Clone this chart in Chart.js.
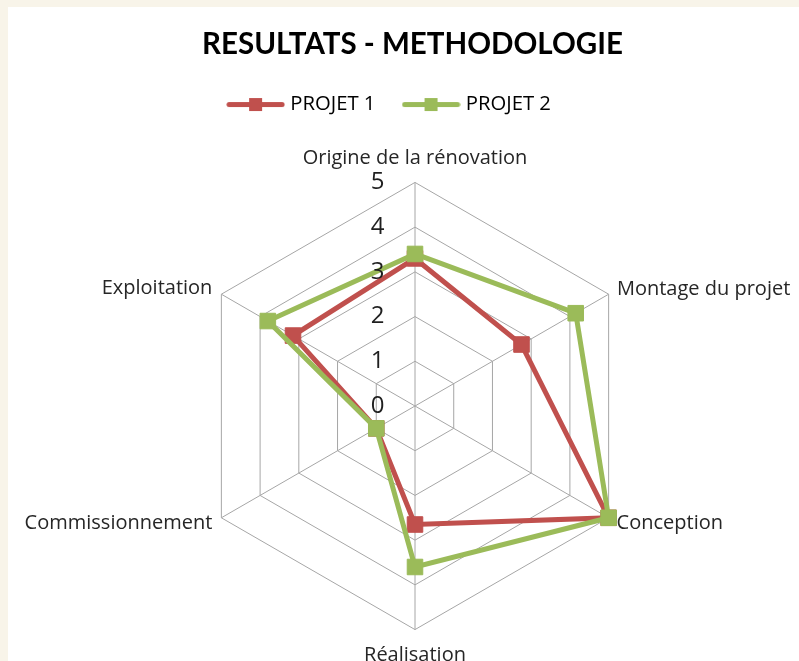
<!DOCTYPE html>
<html>
<head>
<meta charset="utf-8">
<script src="https://cdn.jsdelivr.net/npm/chart.js@4.4.1/dist/chart.umd.min.js"></script>
<style>
  html, body { margin: 0; padding: 0; background: #f8f4e9; overflow: hidden; width: 799px; height: 661px; position: relative; }
  #frame { position: absolute; left: 8px; top: 7px; width: 791px; height: 680px; background: #ffffff; }
  #chart { position: absolute; left: 0px; top: 7px; display: block; }
</style>
</head>
<body>
<div id="frame"></div>
<canvas id="chart" width="830" height="696"></canvas>
<script>
const categories = ["Origine de la rénovation", "Montage du projet", "Conception", "Réalisation", "Commissionnement", "Exploitation"];
const projet1 = [3.3, 2.75, 5, 2.65, 1, 3.15];
const projet2 = [3.4, 4.15, 5, 3.6, 1, 3.8];
const tickValues = [0, 1, 2, 3, 4, 5];
const seriesNames = ["PROJET 1", "PROJET 2"];
const RED = "#C0504D";
const GREEN = "#9BBB59";

const labelPadding = [11.5, -2.4, -2.8, 1, -1.6, -1.6];
const labelLineHeight = ['1px', '1px', '1px', '26px', '1px', '1px'];

function legendMarker(color) {
  const c = document.createElement('canvas');
  c.width = 59; c.height = 15;
  const g = c.getContext('2d');
  g.strokeStyle = color;
  g.lineWidth = 5;
  g.lineCap = 'round';
  g.beginPath(); g.moveTo(3, 7.5); g.lineTo(56, 7.5); g.stroke();
  g.fillStyle = color;
  g.fillRect(23, 1, 13, 13);
  return c;
}

const nudge = {
  id: 'nudge',
  afterLayout(chart) {
    const t = chart.titleBlock;
    if (t) { const d = 412.5 - (t.left + t.right) / 2; t.left += d; t.right += d; }
    const l = chart.legend;
    if (l) { const d = 391 - (l.left + l.right) / 2; l.left += d; l.right += d; }
  }
};

const ctx = document.getElementById('chart').getContext('2d');
new Chart(ctx, {
  type: 'radar',
  data: {
    labels: categories,
    datasets: [
      { label: seriesNames[0], data: projet1, order: 1, borderColor: RED, backgroundColor: RED, borderWidth: 5,
        pointStyle: 'rect', pointRadius: 11, pointBorderWidth: 1, pointBackgroundColor: RED, pointBorderColor: RED, fill: false },
      { label: seriesNames[1], data: projet2, order: 0, borderColor: GREEN, backgroundColor: GREEN, borderWidth: 5,
        pointStyle: 'rect', pointRadius: 11, pointBorderWidth: 1, pointBackgroundColor: GREEN, pointBorderColor: GREEN, fill: false }
    ]
  },
  plugins: [nudge],
  options: {
    responsive: false,
    animation: false,
    devicePixelRatio: 1,
    layout: { padding: { top: 0, bottom: 0, left: 15, right: 31 } },
    elements: { line: { tension: 0 } },
    plugins: {
      title: {
        display: true,
        text: 'RESULTATS - METHODOLOGIE',
        color: '#000000',
        font: { family: 'Lato', size: 29.5, weight: 'bold' },
        padding: { top: 20, bottom: 22 }
      },
      legend: {
        display: true,
        position: 'top',
        labels: {
          usePointStyle: true,
          pointStyleWidth: 49,
          color: '#262626',
          font: { family: 'Open Sans', size: 20.3 },
          padding: 10,
          generateLabels: (chart) => chart.data.datasets.map((ds, i) => ({
            text: i === 0 ? ds.label + '\u00a0\u00a0\u00a0\u00a0' : ds.label,
            pointStyle: legendMarker(ds.borderColor),
            fillStyle: ds.borderColor,
            strokeStyle: ds.borderColor,
            lineWidth: 0,
            hidden: false,
            datasetIndex: i
          }))
        }
      },
      tooltip: { enabled: false }
    },
    scales: {
      r: {
        min: -0.0001,
        max: 5,
        afterBuildTicks: (scale) => { scale.ticks = tickValues.map(v => ({ value: v })); },
        ticks: {
          showLabelBackdrop: false,
          backdropPadding: 0,
          color: '#1f1f1f',
          font: { family: 'Open Sans', size: 24 },
          z: 1,
          callback: (v) => String(v) + '\u00a0'.repeat(12)
        },
        grid: { color: '#a6a6a6', lineWidth: 1 },
        angleLines: { color: '#a6a6a6', lineWidth: 1 },
        pointLabels: {
          color: '#262626',
          font: (c) => ({ family: 'Open Sans', size: 20, lineHeight: labelLineHeight[c.index] }),
          padding: (c) => labelPadding[c.index]
        }
      }
    }
  }
});
</script>
</body>
</html>
